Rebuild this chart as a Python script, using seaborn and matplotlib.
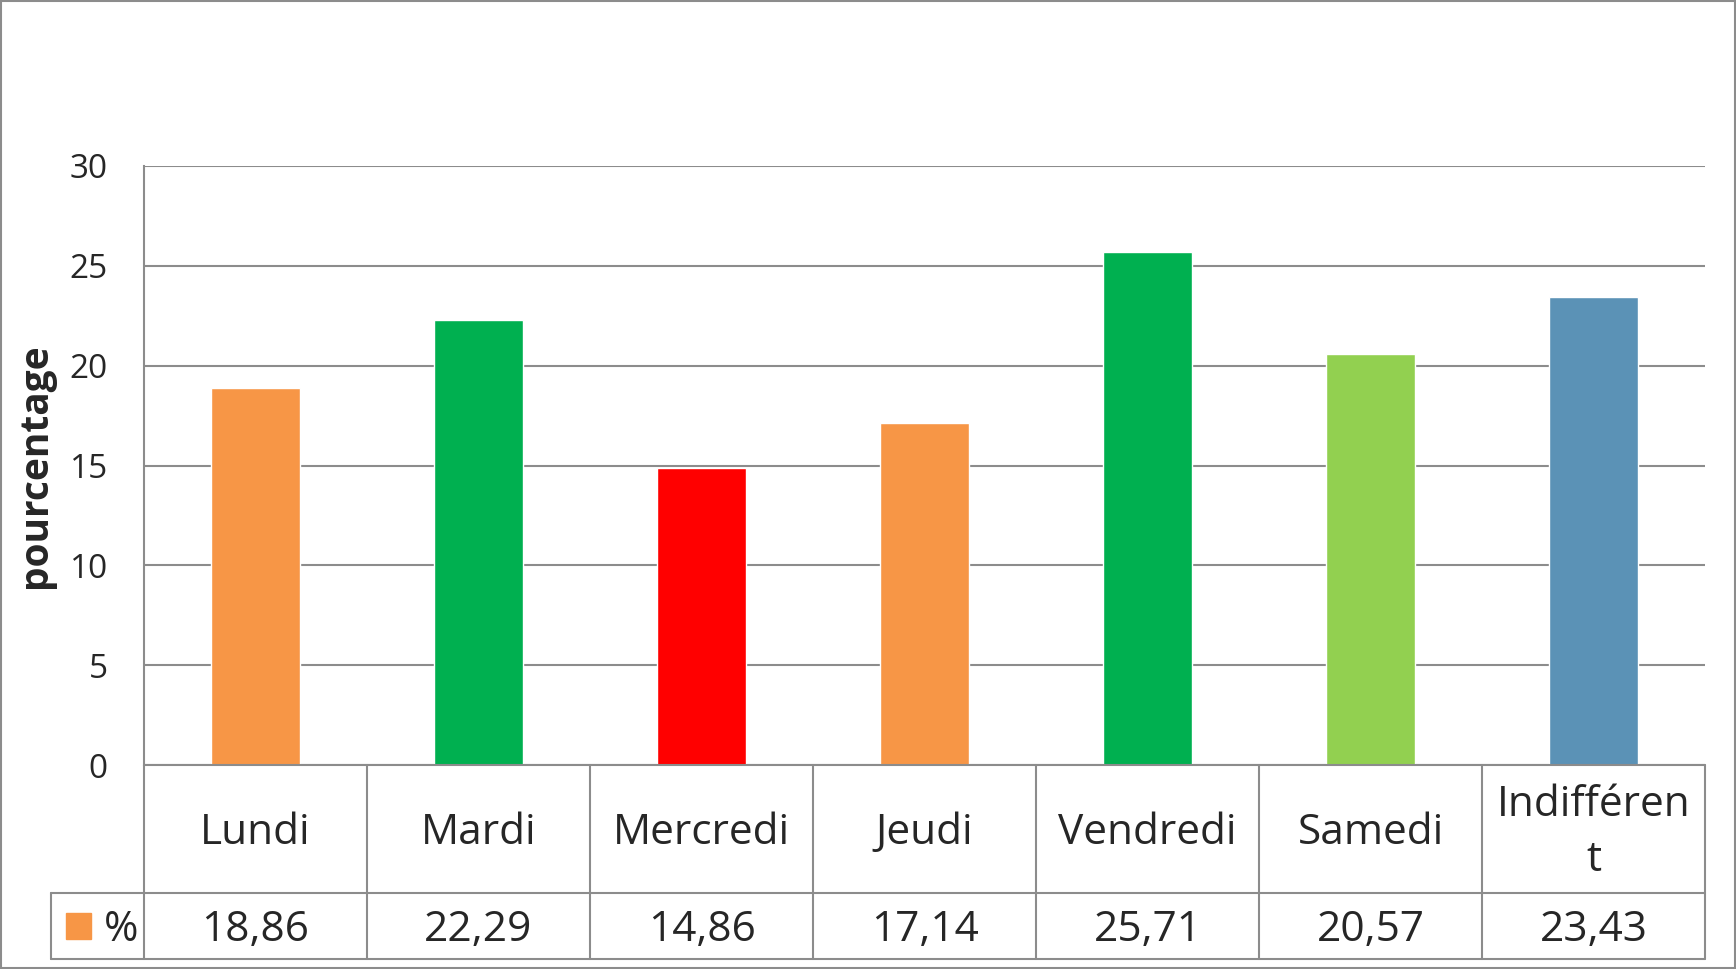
import numpy as np
import pandas as pd
import matplotlib
matplotlib.use('Agg')
import matplotlib.pyplot as plt
import seaborn as sns
from matplotlib.patches import Rectangle
from matplotlib.lines import Line2D

# données
jours = ['Lundi', 'Mardi', 'Mercredi', 'Jeudi', 'Vendredi', 'Samedi', 'Indifférent']
etiquettes = ['Lundi', 'Mardi', 'Mercredi', 'Jeudi', 'Vendredi', 'Samedi', 'Indifféren\nt']
pourcentages = [18.86, 22.29, 14.86, 17.14, 25.71, 20.57, 23.43]
couleurs = ['#F79646', '#00B050', '#FF0000', '#F79646', '#00B050', '#92D050', '#5B92B6']
graduations = [0, 5, 10, 15, 20, 25, 30]

df = pd.DataFrame({'jour': jours, 'pct': pourcentages})

sns.set_style('white')
plt.rcParams['font.family'] = ['Open Sans', 'DejaVu Sans']

fig = plt.figure(figsize=(17.36, 9.69), dpi=100)
ax = fig.add_axes([144 / 1736, 1 - 765 / 969, (1705 - 144) / 1736, (765 - 166) / 969])

sns.barplot(data=df, x='jour', y='pct', hue='jour', palette=couleurs,
            width=0.4, legend=False, ax=ax, saturation=1, zorder=3)

grille = '#8C8C8C'
ax.set_xlim(-0.5, len(jours) - 0.5)
ax.set_ylim(0, 30)
ax.set_yticks(graduations)
ax.set_yticklabels([str(g) for g in graduations], fontsize=24)
ax.tick_params(axis='y', length=0, pad=26)
ax.set_xticks([])
ax.set_xlabel('')
ax.set_ylabel('pourcentage', fontsize=28, fontweight='bold')
ax.yaxis.set_label_coords(-0.057, 0.5)
ax.grid(axis='y', color=grille, linewidth=1.5, zorder=0)
for s in ['top', 'right', 'bottom']:
    ax.spines[s].set_visible(False)
ax.spines['left'].set_color(grille)
ax.spines['left'].set_linewidth(1.5)

# tableau de données sous l'axe
tr = ax.get_xaxis_transform()
h1 = 128 / 599
h2 = 66 / 599
n = len(jours)
gauche_leg = -0.5 - 93 / 223

def trait(x, y):
    ax.add_line(Line2D(x, y, transform=tr, color=grille, linewidth=1.5, clip_on=False, zorder=4))

trait([-0.5, n - 0.5], [0, 0])
trait([gauche_leg, n - 0.5], [-h1, -h1])
trait([gauche_leg, n - 0.5], [-h1 - h2, -h1 - h2])
for i in range(n + 1):
    trait([i - 0.5, i - 0.5], [0, -h1 - h2])
trait([gauche_leg, gauche_leg], [-h1, -h1 - h2])

for i, (lab, v) in enumerate(zip(etiquettes, pourcentages)):
    ax.text(i, -h1 / 2 - 0.006, lab, transform=tr, ha='center', va='center',
            fontsize=30.5, linespacing=1.42)
    ax.text(i, -h1 - h2 / 2 - 0.006, f'{v:.2f}'.replace('.', ','), transform=tr,
            ha='center', va='center', fontsize=30.5)

# légende dans le tableau
ax.add_patch(Rectangle((-0.5 - 78 / 223, -h1 - 46 / 599), 25 / 223, 26 / 599,
                       transform=tr, color=couleurs[0], clip_on=False, zorder=4))
ax.text(-0.5 - 40 / 223, -h1 - h2 / 2 - 0.006, '%', transform=tr, ha='left', va='center', fontsize=30)

# cadre du graphique
fig.add_artist(Rectangle((1 / 1736, 1 / 969), 1 - 2 / 1736, 1 - 2 / 969,
                         transform=fig.transFigure, fill=False,
                         edgecolor='#8C8C8C', linewidth=1.5))

fig.savefig('out.png', dpi=100)
